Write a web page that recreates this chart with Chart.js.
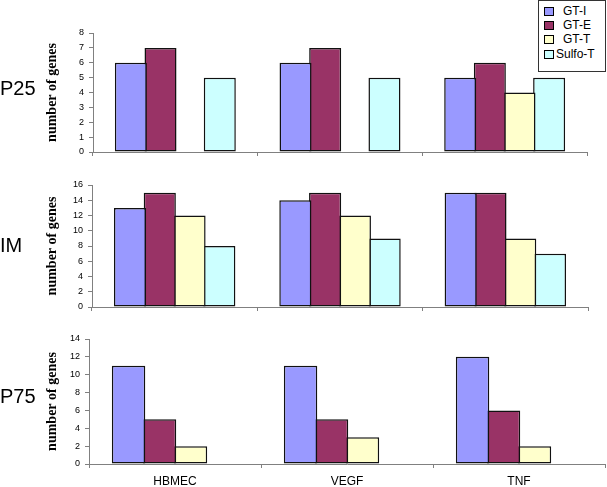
<!DOCTYPE html>
<html>
<head>
<meta charset="utf-8">
<script src="https://cdn.jsdelivr.net/npm/chart.js@4"></script>
<style>
  body { margin: 0; background: #fff; }
  #wrap { position: relative; width: 607px; height: 487px; font-family: Arial, "Liberation Sans", sans-serif; }
  canvas { position: absolute; left: 0; }
  .panel { position: absolute; left: 0; font-size: 20px; color: #000; line-height: 1; }
  #legend { position: absolute; left: 538px; top: 0; width: 66px; height: 70px; border: 1px solid #333; background: #fff; font-size: 12px; }
  #legend .row { position: absolute; left: 5px; height: 14px; line-height: 14px; white-space: nowrap; }
  #legend .sw { display: inline-block; width: 8px; height: 7px; border: 1px solid #000; margin-right: 9px; vertical-align: middle; }
</style>
</head>
<body>
<div id="wrap">
  <canvas id="c1" width="607" height="170" style="top:0"></canvas>
  <canvas id="c2" width="607" height="150" style="top:170px"></canvas>
  <canvas id="c3" width="607" height="167" style="top:320px"></canvas>
  <div class="panel" style="top:78px">P25</div>
  <div class="panel" style="top:235px">IM</div>
  <div class="panel" style="top:386px">P75</div>
  <div id="legend"></div>
</div>
<script>
const categories = ["HBMEC", "VEGF", "TNF"];
const seriesNames = ["GT-I", "GT-E", "GT-T", "Sulfo-T"];
const seriesColors = ["#9999FF", "#993366", "#FFFFCC", "#CCFFFF"];

// values per series, in category order
const p25Values = [[6, 6, 5], [7, 7, 6], [0, 0, 4], [5, 5, 5]];
const imValues = [[13, 14, 15], [15, 15, 15], [12, 12, 9], [8, 9, 7]];
const p75Values = [[11, 11, 12], [5, 5, 6], [2, 3, 2], [0, 0, 0]];

// legend
const legend = document.getElementById("legend");
const rowTops = [3, 17, 31, 46];
seriesNames.forEach((name, i) => {
	const row = document.createElement("div");
	row.className = "row";
	row.style.top = rowTops[i] + "px";
	row.innerHTML = '<span class="sw" style="background:' + seriesColors[i] + (i === 3 ? ';margin-right:2px' : '') + '"></span>' + name;
	legend.appendChild(row);
});

function makePanel(id, values, yMax, yStep, opts) {
	new Chart(document.getElementById(id), {
		type: "bar",
		data: {
			labels: categories,
			datasets: seriesNames.map((name, i) => ({
				label: name,
				data: values[i],
				backgroundColor: seriesColors[i],
				borderColor: "#111",
				borderWidth: 1.5,
				borderSkipped: false,
				categoryPercentage: 0.72,
				barPercentage: 1.08,
			})),
		},
		options: {
			responsive: false,
			animation: false,
			layout: {
				padding: { top: opts.top, bottom: opts.bottom, left: 43, right: opts.right },
			},
			plugins: { legend: { display: false }, tooltip: { enabled: false } },
			scales: {
				x: {
					grid: { offset: true, drawOnChartArea: false, drawTicks: true, tickLength: 4, color: "#808080" },
					border: { color: "#808080", width: 1 },
					ticks: {
						display: opts.showX,
						color: "#000",
						padding: 6,
						font: { family: "Arial", size: 12 },
					},
					afterFit: (s) => { s.height = opts.xHeight; },
				},
				y: {
					min: 0,
					max: yMax,
					grid: { drawOnChartArea: false, drawTicks: true, tickLength: 4, color: "#808080" },
					border: { color: "#808080", width: 1 },
					ticks: {
						stepSize: yStep,
						color: "#000",
						padding: 5,
						font: { family: "Arial", size: 9 },
					},
					title: {
						display: true,
						text: "number of genes",
						color: "#000",
						padding: { top: 1, bottom: 0 },
						font: { family: "Liberation Serif, Times New Roman, serif", size: 14, weight: "bold" },
					},
					afterFit: (s) => { s.width = opts.axisX - 43; },
				},
			},
		},
	});
}

makePanel("c1", p25Values, 8, 1, { top: 33, bottom: 14, right: 20, axisX: 93, xHeight: 4, showX: false });
makePanel("c2", imValues, 16, 2, { top: 15, bottom: 9, right: 19, axisX: 92, xHeight: 4, showX: false });
makePanel("c3", p75Values, 14, 2, { top: 19, bottom: 0, right: 2, axisX: 89, xHeight: 23, showX: true });
</script>
</body>
</html>
